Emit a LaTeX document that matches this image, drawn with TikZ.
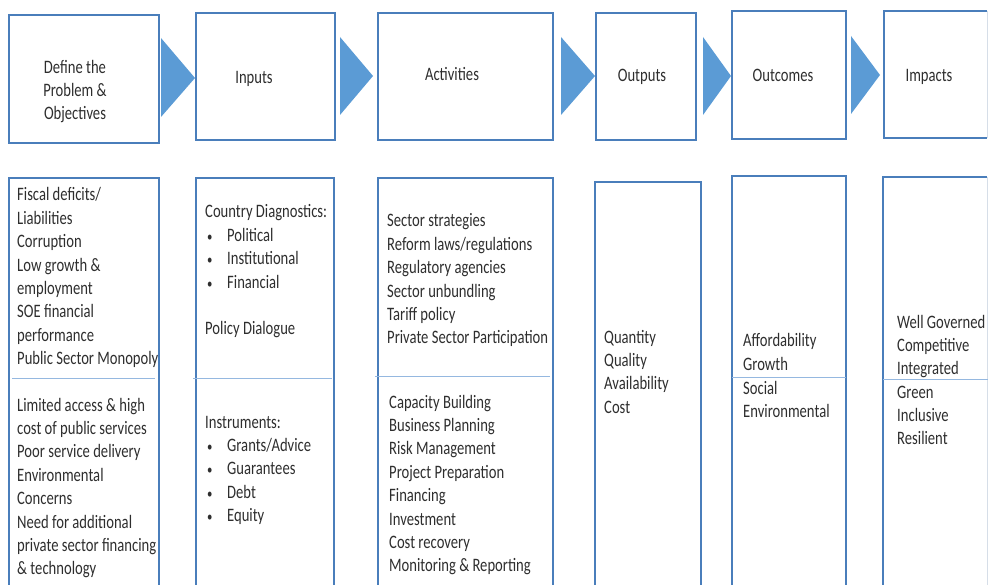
\documentclass[tikz,border=0pt]{standalone}
\usepackage{fontspec}
\setmainfont[FakeStretch=0.77]{Carlito}
\definecolor{boxblue}{HTML}{4A7EBB}
\definecolor{arrowblue}{HTML}{5B9BD5}
\definecolor{divblue}{HTML}{95B8E0}
\definecolor{faintedge}{HTML}{D6DEE8}
\definecolor{txt}{HTML}{2E2E2E}
\newcommand{\txtlines}[1]{\begin{tabular}[t]{@{}l@{}}#1\end{tabular}}
\newcommand{\bul}{\makebox[22pt][l]{\hspace{2pt}{\fontsize{14}{14}\selectfont\textbullet}}}
\begin{document}
\begin{tikzpicture}[x=1pt,y=-1pt,
  every node/.style={font=\fontsize{19}{23.4}\selectfont, text=txt, inner sep=0pt},
  topbox/.style={draw=boxblue, line width=1.7pt},
  colbox/.style={draw=boxblue, line width=1.5pt},
  divline/.style={draw=divblue, line width=1pt},
  chevron/.style={fill=arrowblue, draw=none},
  coltext/.style={anchor=base west, align=left},
  toptext/.style={anchor=base, align=center}]
\useasboundingbox (0,0) rectangle (988,585);
\clip (0,0) rectangle (988,585);
% top boxes
\draw[topbox] (9,15) rectangle (159,143);
\draw[topbox] (196,13) rectangle (335,140);
\draw[topbox] (378,13) rectangle (553,140);
\draw[topbox] (596,13) rectangle (696,140);
\draw[topbox] (732,11) rectangle (846,139);
\draw[topbox] (987,11) -- (884,11) -- (884,138) -- (987,138);
\draw[draw=faintedge, line width=1pt] (987,11) -- (987,138);
% chevrons
\fill[chevron] (161,38) -- (195,78) -- (161,117) -- cycle;
\fill[chevron] (340,37) -- (373,76) -- (340,115) -- cycle;
\fill[chevron] (561,37) -- (595,76) -- (561,115) -- cycle;
\fill[chevron] (703,37) -- (731,76) -- (703,115) -- cycle;
\fill[chevron] (851,36) -- (880,75) -- (851,114) -- cycle;
% top labels
\node[toptext] (t1) at (75,120) {Define the\\Problem \&\\Objectives};
\node[toptext] (t2) at (254,84) {Inputs};
\node[toptext] (t3) at (452,81) {Activities};
\node[toptext] (t4) at (642,82) {Outputs};
\node[toptext] (t5) at (783,82) {Outcomes};
\node[toptext] (t6) at (929,82) {Impacts};
% lower columns
\draw[colbox] (9,600) |- (159,178) -- (159,600);
\draw[colbox] (196,600) |- (334,178) -- (334,600);
\draw[colbox] (378,600) |- (553,178) -- (553,600);
\draw[colbox] (595,600) |- (701,182) -- (701,600);
\draw[colbox] (732,600) |- (846,176) -- (846,600);
\draw[colbox] (883,600) |- (987,177);
\draw[draw=faintedge, line width=1pt] (987,177) -- (987,600);
% dividers
\draw[divline] (12,378) -- (155,378);
\draw[divline] (193,378) -- (332,378);
\draw[divline] (375,376) -- (550,376);
\draw[divline] (732,377) -- (846,377);
\draw[divline] (883,379) -- (988,379);
% column texts
\node[coltext] (c1a) at (17,201) {\txtlines{Fiscal deficits/\\Liabilities\\Corruption\\Low growth \&\\employment\\SOE financial\\performance\\Public Sector Monopoly}};
\node[coltext] (c1b) at (17,411) {\txtlines{Limited access \& high\\cost of public services\\Poor service delivery\\Environmental\\Concerns\\Need for additional\\private sector financing\\\& technology}};
\node[coltext] (c2a) at (205,218) {\txtlines{Country Diagnostics:\\\bul Political\\\bul Institutional\\\bul Financial\\ \\Policy Dialogue}};
\node[coltext] (c2b) at (205,428) {\txtlines{Instruments:\\\bul Grants/Advice\\\bul Guarantees\\\bul Debt\\\bul Equity}};
\node[coltext] (c3a) at (387,227) {\txtlines{Sector strategies\\Reform laws/regulations\\Regulatory agencies\\Sector unbundling\\Tariff policy\\Private Sector Participation}};
\node[coltext] (c3b) at (389,408) {\txtlines{Capacity Building\\Business Planning\\Risk Management\\Project Preparation\\Financing\\Investment\\Cost recovery\\Monitoring \& Reporting}};
\node[coltext] (c4) at (604,343) {\txtlines{Quantity\\Quality\\Availability\\Cost}};
\node[coltext] (c5a) at (743,347) {\txtlines{Affordability\\Growth}};
\node[coltext] (c5b) at (743,394) {\txtlines{Social\\Environmental}};
\node[coltext] (c6a) at (897,328) {\txtlines{Well Governed\\Competitive\\Integrated}};
\node[coltext] (c6b) at (897,398) {\txtlines{Green\\Inclusive\\Resilient}};
\end{tikzpicture}
\end{document}
